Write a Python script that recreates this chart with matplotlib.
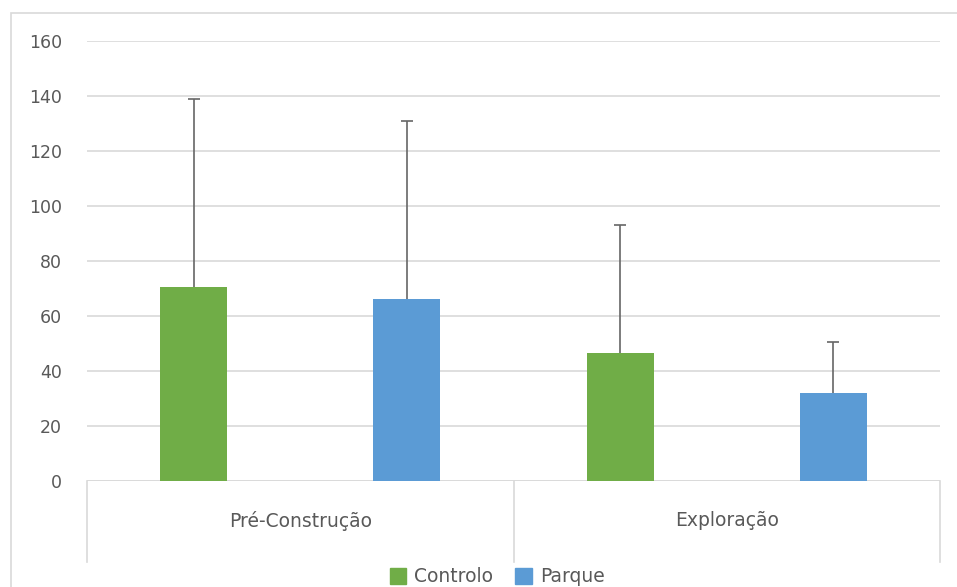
import matplotlib.pyplot as plt
import numpy as np
from matplotlib.patches import Patch, Rectangle

# Data
categories = ['Pré-Construção', 'Exploração']
controlo = np.array([70.5, 46.5])
parque = np.array([66.3, 32.0])
controlo_err = np.array([68.3, 46.5])   # upper error only
parque_err = np.array([64.5, 18.5])
y_ticks = [0, 20, 40, 60, 80, 100, 120, 140, 160]

green = '#70AD47'
blue = '#5B9BD5'
text_col = '#595959'
grid_col = '#D9D9D9'

plt.rcParams['font.family'] = ['DejaVu Sans']

fig = plt.figure(figsize=(9.57, 5.87), dpi=100)
ax = fig.add_axes([87 / 957, 1 - 481 / 587, (940 - 87) / 957, (481 - 41) / 587])

x = np.arange(len(categories))
width = 0.157
off = 0.25

ax.bar(x - off, controlo, width, color=green, zorder=2, label='Controlo')
ax.bar(x + off, parque, width, color=blue, zorder=2, label='Parque')
for xs, vals, errs in [(x - off, controlo, controlo_err), (x + off, parque, parque_err)]:
    eb = ax.errorbar(xs, vals, yerr=[np.zeros_like(errs), errs],
                     fmt='none', ecolor='#666666', elinewidth=1.2, capsize=4.5,
                     capthick=1.2, zorder=3)
    # hide the lower caps (plus-only error bars)
    eb[1][0].set_visible(False)

ax.set_xlim(-0.5, 1.5)
ax.set_ylim(0, 160)
ax.set_yticks(y_ticks)
ax.yaxis.grid(True, color=grid_col, linewidth=1.2, zorder=0)
ax.set_axisbelow(True)
for s in ax.spines.values():
    s.set_visible(False)
ax.tick_params(axis='y', length=0, labelsize=12.5, labelcolor=text_col, pad=18)
ax.tick_params(axis='x', length=0, labelbottom=False)

# category axis: base line and separators
ax.axhline(0, color=grid_col, linewidth=1.2, zorder=1)
for xs in [-0.5, 0.5, 1.5]:
    ax.plot([xs, xs], [0, -29.5], color=grid_col, linewidth=1.2, clip_on=False)
for xi, lab in zip(x, categories):
    ax.text(xi, -14.5, lab, ha='center', va='center', fontsize=13.5, color=text_col)

# outer chart border (cropped in the original)
fig.patches.append(Rectangle((11 / 957, -0.1), 1.2, 1 - 13 / 587 + 0.1,
                             transform=fig.transFigure, fill=False,
                             edgecolor='#D9D9D9', linewidth=1.2))

handles = [Patch(color=green, label='Controlo'), Patch(color=blue, label='Parque')]
fig.legend(handles=handles, loc='center', bbox_to_anchor=(497 / 957, 1 - 577 / 587),
           ncol=2, frameon=False, fontsize=13.5, labelcolor=text_col,
           handlelength=0.9, handleheight=1.0, handletextpad=0.4, columnspacing=1.2)

fig.savefig('out.png', dpi=100)
